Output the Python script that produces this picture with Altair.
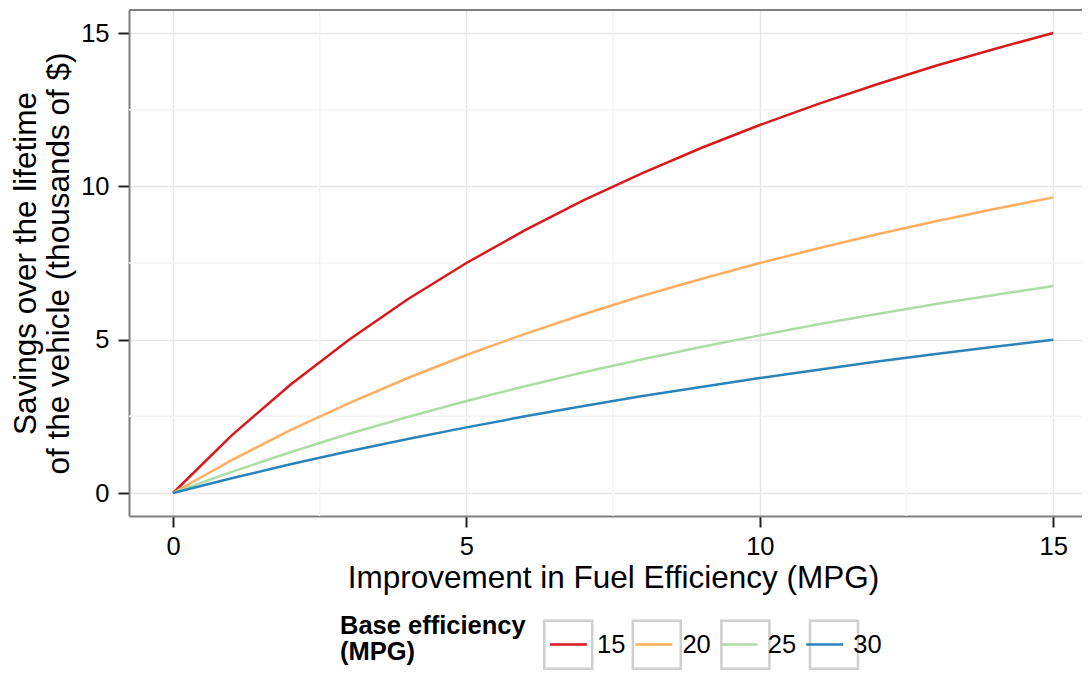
import altair as alt
import pandas as pd

# ---- data ----
mpg_gain = list(range(16))
base_eff = ["15", "20", "25", "30"]
sav_15 = [0, 1.88, 3.53, 5.00, 6.32, 7.50, 8.57, 9.55, 10.43, 11.25, 12.00, 12.69, 13.33, 13.93, 14.48, 15.00]
sav_20 = [0, 1.07, 2.05, 2.93, 3.75, 4.50, 5.19, 5.83, 6.43, 6.98, 7.50, 7.98, 8.44, 8.86, 9.26, 9.64]
sav_25 = [0, 0.69, 1.33, 1.93, 2.48, 3.00, 3.48, 3.94, 4.36, 4.76, 5.14, 5.50, 5.84, 6.16, 6.46, 6.75]
sav_30 = [0, 0.48, 0.94, 1.36, 1.76, 2.14, 2.50, 2.84, 3.16, 3.46, 3.75, 4.02, 4.29, 4.53, 4.77, 5.00]
x_ticks = [0, 5, 10, 15]
y_ticks = [0, 5, 10, 15]
x_minor = [2.5, 7.5, 12.5]
y_minor = [2.5, 7.5, 12.5]
line_colors = ["#d7191c", "#fdae61", "#abdda4", "#2b83ba"]

series = {"15": sav_15, "20": sav_20, "25": sav_25, "30": sav_30}
rows = []
for b in base_eff:
    for g, s in zip(mpg_gain, series[b]):
        rows.append({"mpg": g, "sav": s, "base": b, "base_box": b})
df = pd.DataFrame(rows)

FONT = "Liberation Sans"
W, H = 953, 506
xs = alt.Scale(domain=[-0.75, 15.49], nice=False, zero=False)
ys = alt.Scale(domain=[-0.75, 15.75], nice=False, zero=False)

x_axis = alt.Axis(
    values=x_ticks, format="d", title="Improvement in Fuel Efficiency (MPG)",
    grid=True, gridColor="#e6e6e6", gridWidth=1.5,
    domainColor="#7f7f7f", domainWidth=2,
    tickColor="#222222", tickWidth=2, tickSize=11,
    labelFont=FONT, labelFontSize=25.5, labelColor="black", labelPadding=7,
    titleFont=FONT, titleFontSize=31.5, titleFontWeight="normal", titleColor="black",
    titlePadding=3, titleX=484, titleAlign="center",
)
y_axis = alt.Axis(
    values=y_ticks, format="d",
    title=["Savings over the lifetime", "of the vehicle (thousands of $)"],
    grid=True, gridColor="#e6e6e6", gridWidth=1.5,
    domainColor="#7f7f7f", domainWidth=2,
    tickColor="#222222", tickWidth=2, tickSize=11,
    labelFont=FONT, labelFontSize=25.5, labelColor="black", labelPadding=9,
    titleFont=FONT, titleFontSize=31.5, titleFontWeight="normal", titleColor="black",
    titlePadding=5, titleLineHeight=33,
)


def X(field="mpg"):
    return alt.X(f"{field}:Q", scale=xs, axis=x_axis)


def Y(field="sav"):
    return alt.Y(f"{field}:Q", scale=ys, axis=y_axis)


LEG_X, LEG_Y = 211, 609
TITLE_W, TITLE_PAD = 185.7, 17
LABEL_W = 28.4
COL_PAD = 2.4
SYM = 48 * 48
common_leg = dict(
    orient="none", legendY=LEG_Y, direction="horizontal",
    labelFont=FONT, labelFontSize=25.5, labelColor="black", labelOffset=3,
    symbolSize=SYM, symbolStrokeWidth=2.5,
)

minor_v = alt.Chart(pd.DataFrame({"mpg": x_minor})).mark_rule(
    color="#f4f4f4", strokeWidth=1.5).encode(x=X())
minor_h = alt.Chart(pd.DataFrame({"sav": y_minor})).mark_rule(
    color="#f4f4f4", strokeWidth=1.5).encode(y=Y())

# invisible layer that only provides the grey key boxes of the legend
# (its domain is listed in another order so that it stays a separate legend)
boxes = alt.Chart(df).mark_point(opacity=0, color="#cfcfcf", filled=False,
                                 strokeWidth=2.5).encode(
    x=X(), y=Y(),
    shape=alt.Shape(
        "base_box:N",
        scale=alt.Scale(domain=base_eff[::-1], range=["square"] * 4),
        legend=alt.Legend(
            **common_leg,
            legendX=LEG_X + TITLE_W + TITLE_PAD,
            title=None,
            labelExpr="''",
            columnPadding=COL_PAD + LABEL_W - 1.2,
            symbolType="square",
            symbolStrokeColor="#cfcfcf",
            symbolFillColor="transparent",
        ),
    ),
)

lines = alt.Chart(df).mark_line(strokeWidth=2.5).encode(
    x=X(), y=Y(),
    color=alt.Color(
        "base:N",
        scale=alt.Scale(domain=base_eff, range=line_colors),
        legend=alt.Legend(
            **common_leg,
            legendX=LEG_X,
            title=["Base efficiency", "(MPG)"], titleOrient="left",
            titleFont=FONT, titleFontSize=25.5, titleFontWeight="bold",
            titleColor="black", titleLineHeight=26, titlePadding=TITLE_PAD,
            titleLimit=400,
            columnPadding=COL_PAD,
            symbolType="M-0.77,0H0.77",
        ),
    ),
)

top_border = alt.Chart(pd.DataFrame({"sav": [15.75]})).mark_rule(
    color="#7f7f7f", strokeWidth=2).encode(y=Y())

chart = alt.layer(minor_v, minor_h, boxes, lines, top_border).properties(
    width=W, height=H,
    autosize=alt.AutoSizeParams(type="none"),
    padding={"left": 121, "top": 2, "right": 0, "bottom": 156},
    background="white",
).configure_view(stroke=None)

chart.save("out.html", embed_options={"renderer": "svg", "actions": False})
